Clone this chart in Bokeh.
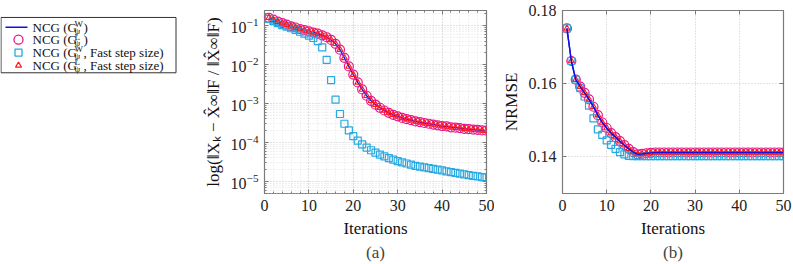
from bokeh.plotting import figure
from bokeh.layouts import row
from bokeh.models import Range1d, FixedTicker, Title, LinearAxis, LogAxis, CustomJSTickFormatter
from bokeh.embed import file_html
from bokeh.resources import INLINE
from bokeh.core.properties import value

# ---------------- data ----------------
iterations = list(range(1, 51))

# panel (a): relative change  ||X_k - X_inf||_F / ||X_inf||_F
err_W = [0.158, 0.141, 0.126, 0.115, 0.105, 0.0955, 0.0891, 0.0813, 0.0759, 0.0708,
         0.0661, 0.0617, 0.0562, 0.0501, 0.0427, 0.0339, 0.0240, 0.0148, 0.00891, 0.00550,
         0.00347, 0.00229, 0.00158, 0.00117, 9.33e-4, 7.76e-4, 6.61e-4, 5.75e-4, 5.13e-4, 4.68e-4,
         4.27e-4, 3.98e-4, 3.72e-4, 3.47e-4, 3.31e-4, 3.16e-4, 3.02e-4, 2.88e-4, 2.75e-4, 2.63e-4,
         2.57e-4, 2.45e-4, 2.40e-4, 2.34e-4, 2.24e-4, 2.19e-4, 2.14e-4, 2.09e-4, 2.04e-4, 2.00e-4]
err_L = [0.158, 0.141, 0.126, 0.115, 0.105, 0.0955, 0.0891, 0.0813, 0.0759, 0.0708,
         0.0661, 0.0617, 0.0562, 0.0501, 0.0427, 0.0339, 0.0240, 0.0148, 0.00891, 0.00550,
         0.00347, 0.00229, 0.00158, 0.00117, 9.33e-4, 7.76e-4, 6.61e-4, 5.75e-4, 5.13e-4, 4.68e-4,
         4.27e-4, 3.98e-4, 3.72e-4, 3.47e-4, 3.31e-4, 3.16e-4, 3.02e-4, 2.88e-4, 2.75e-4, 2.63e-4,
         2.57e-4, 2.45e-4, 2.40e-4, 2.34e-4, 2.24e-4, 2.19e-4, 2.14e-4, 2.09e-4, 2.04e-4, 2.00e-4]
err_W_fast = [0.148, 0.129, 0.115, 0.102, 0.0933, 0.0851, 0.0776, 0.0692, 0.0617, 0.0550,
              0.0479, 0.0398, 0.0275, 0.0132, 0.00398, 0.00126, 5.37e-4, 3.02e-4, 2.04e-4, 1.45e-4,
              1.12e-4, 8.91e-5, 7.41e-5, 6.31e-5, 5.50e-5, 4.90e-5, 4.37e-5, 3.98e-5, 3.63e-5, 3.31e-5,
              3.09e-5, 2.88e-5, 2.69e-5, 2.51e-5, 2.40e-5, 2.29e-5, 2.19e-5, 2.09e-5, 2.00e-5, 1.91e-5,
              1.82e-5, 1.74e-5, 1.66e-5, 1.58e-5, 1.51e-5, 1.45e-5, 1.38e-5, 1.35e-5, 1.29e-5, 1.26e-5]
err_L_fast = [0.158, 0.141, 0.126, 0.115, 0.105, 0.0955, 0.0891, 0.0813, 0.0759, 0.0708,
              0.0661, 0.0617, 0.0562, 0.0501, 0.0427, 0.0339, 0.0240, 0.0148, 0.00891, 0.00550,
              0.00347, 0.00229, 0.00158, 0.00117, 9.33e-4, 7.76e-4, 6.61e-4, 5.75e-4, 5.13e-4, 4.68e-4,
              4.27e-4, 3.98e-4, 3.72e-4, 3.47e-4, 3.31e-4, 3.16e-4, 3.02e-4, 2.88e-4, 2.75e-4, 2.63e-4,
              2.57e-4, 2.45e-4, 2.40e-4, 2.34e-4, 2.24e-4, 2.19e-4, 2.14e-4, 2.09e-4, 2.04e-4, 2.00e-4]

# panel (b): NRMSE
nrmse_W = [0.1751, 0.1662, 0.1611, 0.1592, 0.1575, 0.1557, 0.1537, 0.1514, 0.1494, 0.1479,
           0.1465, 0.1454, 0.1443, 0.1432, 0.1422, 0.1413, 0.1407, 0.1408, 0.1410, 0.1411,
           0.1412, 0.1412, 0.1412, 0.1412, 0.1412, 0.1412, 0.1412, 0.1412, 0.1412, 0.1412,
           0.1412, 0.1412, 0.1412, 0.1412, 0.1412, 0.1412, 0.1412, 0.1412, 0.1412, 0.1412,
           0.1412, 0.1412, 0.1412, 0.1412, 0.1412, 0.1412, 0.1412, 0.1412, 0.1412, 0.1412]
nrmse_L = [0.1751, 0.1662, 0.1611, 0.1592, 0.1575, 0.1557, 0.1537, 0.1514, 0.1494, 0.1479,
           0.1465, 0.1454, 0.1443, 0.1432, 0.1422, 0.1413, 0.1407, 0.1408, 0.1410, 0.1411,
           0.1412, 0.1412, 0.1412, 0.1412, 0.1412, 0.1412, 0.1412, 0.1412, 0.1412, 0.1412,
           0.1412, 0.1412, 0.1412, 0.1412, 0.1412, 0.1412, 0.1412, 0.1412, 0.1412, 0.1412,
           0.1412, 0.1412, 0.1412, 0.1412, 0.1412, 0.1412, 0.1412, 0.1412, 0.1412, 0.1412]
nrmse_W_fast = [0.1751, 0.1662, 0.1611, 0.1588, 0.1565, 0.1540, 0.1505, 0.1475, 0.1460, 0.1445,
                0.1433, 0.1422, 0.1413, 0.1407, 0.1403, 0.1402, 0.1402, 0.1402, 0.1402, 0.1402,
                0.1402, 0.1402, 0.1402, 0.1402, 0.1402, 0.1402, 0.1402, 0.1402, 0.1402, 0.1402,
                0.1402, 0.1402, 0.1402, 0.1402, 0.1402, 0.1402, 0.1402, 0.1402, 0.1402, 0.1402,
                0.1402, 0.1402, 0.1402, 0.1402, 0.1402, 0.1402, 0.1402, 0.1402, 0.1402, 0.1402]
nrmse_L_fast = [0.1751, 0.1662, 0.1611, 0.1592, 0.1575, 0.1557, 0.1537, 0.1514, 0.1494, 0.1479,
                0.1465, 0.1454, 0.1443, 0.1432, 0.1422, 0.1413, 0.1407, 0.1408, 0.1410, 0.1411,
                0.1412, 0.1412, 0.1412, 0.1412, 0.1412, 0.1412, 0.1412, 0.1412, 0.1412, 0.1412,
                0.1412, 0.1412, 0.1412, 0.1412, 0.1412, 0.1412, 0.1412, 0.1412, 0.1412, 0.1412,
                0.1412, 0.1412, 0.1412, 0.1412, 0.1412, 0.1412, 0.1412, 0.1412, 0.1412, 0.1412]

x_ticks = [0, 10, 20, 30, 40, 50]
err_ticks = [1e-5, 1e-4, 1e-3, 1e-2, 1e-1]
nrmse_ticks = [0.14, 0.16, 0.18]

legend_sup = ["W", "L", "W", "L"]
legend_tail = [")", ")", ", Fast step size)", ", Fast step size)"]

# ---------------- styles ----------------
FONT = "Liberation Serif"
C_LINE = "#1010e6"
C_CIRC = "#e8158a"
C_SQ = "#27a9e1"
C_TRI = "#ff1a1a"
FRAME = "#7a7a7a"
H = 263


def style(p):
    p.outline_line_color = FRAME
    p.outline_line_width = 1.2
    p.background_fill_color = "white"
    p.border_fill_color = "white"
    a = p.axis
    a.axis_line_color = None
    a.major_tick_in = 4
    a.major_tick_out = 0
    a.minor_tick_in = 2
    a.minor_tick_out = 0
    a.major_tick_line_color = FRAME
    a.minor_tick_line_color = FRAME
    a.major_label_standoff = 6
    a.major_label_text_font = FONT
    a.major_label_text_font_size = "16px"
    a.major_label_text_color = "#222222"
    a.axis_label_text_font = FONT
    a.axis_label_text_font_style = "normal"
    a.axis_label_text_font_size = "17px"
    a.axis_label_text_color = "#111111"
    a.axis_label_standoff = 5


def mirror_axis(cls, ticker):
    return cls(ticker=ticker, formatter=CustomJSTickFormatter(code="return ''"),
               axis_line_color=None, major_tick_in=4, major_tick_out=0,
               minor_tick_in=2, minor_tick_out=0, major_label_standoff=0,
               major_tick_line_color=FRAME, minor_tick_line_color=FRAME,
               major_label_text_font_size="1px")


def draw(p, yW, yL, yWf, yLf):
    p.line(iterations, yW, line_color=C_LINE, line_width=1.4)
    p.scatter(iterations, yL, marker="circle", size=9, fill_color=None,
              line_color=C_CIRC, line_width=1.2)
    p.scatter(iterations, yWf, marker="square", size=7, fill_color=None,
              line_color=C_SQ, line_width=1.2)
    p.scatter(iterations, yLf, marker="triangle", size=6, fill_color=None,
              line_color=C_TRI, line_width=1.1)


# ---------------- legend panel ----------------
LW = 180
leg = figure(width=LW, height=H, x_range=Range1d(0, LW), y_range=Range1d(H, 0),
             output_backend="svg", toolbar_location=None,
             x_axis_location=None, y_axis_location=None,
             min_border=0, outline_line_color=None)
leg.grid.visible = False
leg.quad(left=[0.5], right=[175.5], top=[10], bottom=[89.5], fill_color="white",
         line_color="#333333", line_width=1)
rows_y = [24, 42, 60.5, 79]
leg.line([5, 27], [rows_y[0], rows_y[0]], line_color=C_LINE, line_width=1.6)
leg.scatter([18], [rows_y[1]], marker="circle", size=9, fill_color=None,
            line_color=C_CIRC, line_width=1.3)
leg.scatter([18], [rows_y[2]], marker="square", size=7, fill_color=None,
            line_color=C_SQ, line_width=1.3)
leg.scatter([18], [rows_y[3]], marker="triangle", size=6, fill_color=None,
            line_color=C_TRI, line_width=1.3)
tx = 32
leg.text(x=[tx] * 4, y=rows_y, text=["NCG (G"] * 4, text_font=value(FONT),
         text_font_size=value("13px"), text_baseline="middle", text_color="#111111")
leg.text(x=[tx + 42] * 4, y=[v - 4.5 for v in rows_y], text=legend_sup, text_font=value(FONT),
         text_font_size=value("9px"), text_baseline="middle", text_color="#111111")
leg.text(x=[tx + 42] * 4, y=[v + 5 for v in rows_y], text=["ψ"] * 4, text_font=value(FONT),
         text_font_size=value("9px"), text_baseline="middle", text_color="#111111")
leg.text(x=[tx + 51] * 4, y=rows_y, text=legend_tail, text_font=value(FONT),
         text_font_size=value("13px"), text_baseline="middle", text_color="#111111")

# ---------------- panel (a) ----------------
pa = figure(width=314, height=H, y_axis_type="log",
            x_range=Range1d(0, 50), y_range=Range1d(4.9e-6, 0.243),
            output_backend="svg", toolbar_location=None,
            min_border_left=84, min_border_right=8, min_border_top=10, min_border_bottom=70)
draw(pa, err_W, err_L, err_W_fast, err_L_fast)
xa_ticker = FixedTicker(ticks=x_ticks, minor_ticks=[t for t in range(0, 51, 2)])
ya_ticker = FixedTicker(ticks=err_ticks,
                        minor_ticks=[m * 10.0 ** e for e in range(-6, 0) for m in range(2, 10)])
pa.xaxis.ticker = xa_ticker
pa.yaxis.ticker = ya_ticker
pa.xaxis.axis_label = "Iterations"
pa.yaxis.axis_label = "log(‖Xₖ − X̂∞‖F / ‖X̂∞‖F)"
style(pa)
pa.add_layout(mirror_axis(LogAxis, ya_ticker), "right")
pa.add_layout(mirror_axis(LinearAxis, xa_ticker), "above")
pa.xgrid.grid_line_color = "#c8c8c8"
pa.ygrid.grid_line_color = "#c8c8c8"
pa.xgrid.grid_line_dash = "1 2"
pa.ygrid.grid_line_dash = "1 2"
pa.xgrid.minor_grid_line_color = "#e2e2e2"
pa.ygrid.minor_grid_line_color = "#e2e2e2"
pa.xgrid.minor_grid_line_dash = "1 2"
pa.ygrid.minor_grid_line_dash = "1 2"
pa.add_layout(Title(text="(a)", align="center", text_font=FONT, text_font_size="17px",
                    text_font_style="normal", standoff=0), "below")

# ---------------- panel (b) ----------------
pb = figure(width=298, height=H,
            x_range=Range1d(0, 50), y_range=Range1d(0.13, 0.18),
            output_backend="svg", toolbar_location=None,
            min_border_left=68, min_border_right=9, min_border_top=10, min_border_bottom=70)
draw(pb, nrmse_W, nrmse_L, nrmse_W_fast, nrmse_L_fast)
pb.line(iterations, nrmse_W, line_color=C_LINE, line_width=1.4)
xb_ticker = FixedTicker(ticks=x_ticks)
yb_ticker = FixedTicker(ticks=nrmse_ticks)
pb.xaxis.ticker = xb_ticker
pb.yaxis.ticker = yb_ticker
pb.xaxis.axis_label = "Iterations"
pb.yaxis.axis_label = "NRMSE"
style(pb)
pb.add_layout(mirror_axis(LinearAxis, yb_ticker), "right")
pb.add_layout(mirror_axis(LinearAxis, xb_ticker), "above")
pb.xgrid.grid_line_color = "#c8c8c8"
pb.ygrid.grid_line_color = "#c8c8c8"
pb.xgrid.grid_line_dash = "1 2"
pb.ygrid.grid_line_dash = "1 2"
pb.add_layout(Title(text="(b)", align="center", text_font=FONT, text_font_size="17px",
                    text_font_style="normal", standoff=0), "below")

layout = row(leg, pa, pb)
open("out.html", "w").write(file_html(layout, INLINE))
